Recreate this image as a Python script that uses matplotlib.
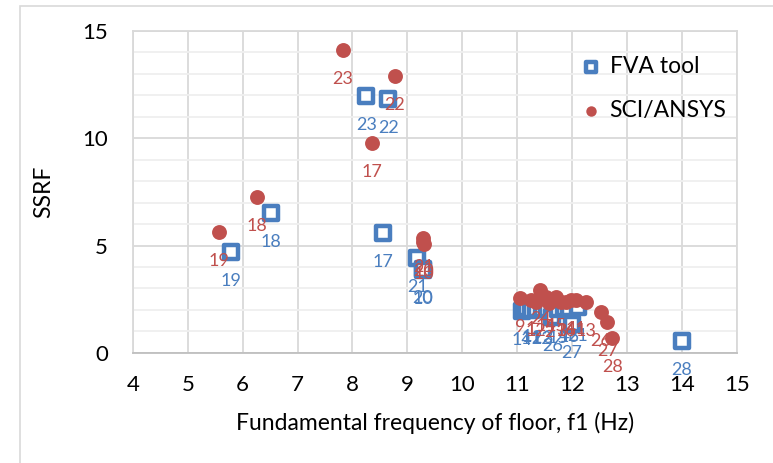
import matplotlib.pyplot as plt
from matplotlib.patches import Rectangle
from matplotlib.ticker import MultipleLocator

plt.rcParams['font.family'] = ['Lato', 'DejaVu Sans']

# FVA tool results (floor frequency, SSRF, floor id)
fva_f = [5.79, 6.52, 8.25, 8.65, 8.56, 9.18, 9.28, 9.29,
         11.09, 11.17, 11.25, 11.35, 11.45, 11.55, 11.64, 11.75,
         11.85, 11.95, 12.00, 12.10, 14.00]
fva_ssrf = [4.72, 6.51, 11.98, 11.83, 5.60, 4.41, 3.91, 3.88,
            1.95, 2.08, 2.00, 2.05, 2.02, 2.06, 1.66, 2.06,
            2.10, 2.08, 1.35, 2.12, 0.56]
fva_id = ['19', '18', '23', '22', '17', '21', '20', '10',
          '14', '1', '11', '2', '12', '3', '26', '15',
          '4', '16', '27', '21', '28']

# SCI / ANSYS results
sci_f = [5.57, 6.26, 7.82, 8.77, 8.36, 9.29, 9.29, 9.30,
         11.05, 11.25, 11.35, 11.42, 11.53, 11.58, 11.71, 11.80,
         11.89, 11.98, 12.07, 12.25, 12.53, 12.64, 12.73]
sci_ssrf = [5.65, 7.28, 14.11, 12.92, 9.80, 5.36, 5.18, 5.05,
            2.56, 2.47, 2.38, 2.93, 2.61, 2.33, 2.61, 2.38,
            2.38, 2.47, 2.47, 2.38, 1.91, 1.44, 0.70]
sci_id = ['19', '18', '23', '22', '17', '21', '20', '10',
          '9', '1', '12', '24', '14', '2', '15', '3',
          '16', '4', '11', '13', '26', '27', '28']

blue = '#4a7ebf'
red = '#c0504d'

fig = plt.figure(figsize=(7.73, 4.63), dpi=100)
ax = fig.add_axes([0.172, 0.238, 0.781, 0.695])

# chart area border (cropped at right / bottom)
fig.patches.append(Rectangle((20 / 773, -0.1), 1.2, 1.1 - 5.5 / 463,
                             transform=fig.transFigure, fill=False,
                             edgecolor='#d9d9d9', lw=1.2))

ax.scatter(fva_f, fva_ssrf, marker='s', s=90, facecolor='white',
           edgecolor=blue, linewidths=3.2, zorder=3, label='FVA tool')
ax.scatter(sci_f, sci_ssrf, marker='o', s=115, color=red,
           linewidths=0, zorder=4, label='SCI/ANSYS')

for x, y, t in zip(fva_f, fva_ssrf, fva_id):
    ax.annotate(t, (x, y), xytext=(0, -21), textcoords='offset points',
                ha='center', va='center', color=blue, fontsize=13, zorder=5)
for x, y, t in zip(sci_f, sci_ssrf, sci_id):
    ax.annotate(t, (x, y), xytext=(0, -21), textcoords='offset points',
                ha='center', va='center', color=red, fontsize=13, zorder=5)

ax.set_xlim(4, 15)
ax.set_ylim(0, 15)
ax.xaxis.set_major_locator(MultipleLocator(1))
ax.yaxis.set_major_locator(MultipleLocator(5))
ax.yaxis.set_minor_locator(MultipleLocator(1))
ax.grid(True, which='major', color='#d9d9d9', lw=1.3)
ax.grid(True, which='minor', axis='y', color='#efefef', lw=1.3)
ax.set_axisbelow(True)
for side in ['top', 'right', 'left']:
    ax.spines[side].set_color('#d9d9d9')
    ax.spines[side].set_linewidth(1.3)
ax.spines['bottom'].set_color('#bfbfbf')
ax.spines['bottom'].set_linewidth(1.3)
ax.tick_params(which='both', length=0, labelsize=16, colors='black')
ax.tick_params(axis='y', pad=18)
ax.tick_params(axis='x', pad=16)

ax.set_xlabel('Fundamental frequency of floor, f1 (Hz)', fontsize=16.5, labelpad=12)
ax.set_ylabel('SSRF', fontsize=16.5, labelpad=20)

leg = ax.legend(loc='upper left', bbox_to_anchor=(0.727, 0.95), frameon=False,
                fontsize=16.5, labelspacing=1.0, handlelength=0.9,
                handletextpad=0.35, markerscale=0.7, borderaxespad=0)

fig.savefig('out.png', dpi=100)
